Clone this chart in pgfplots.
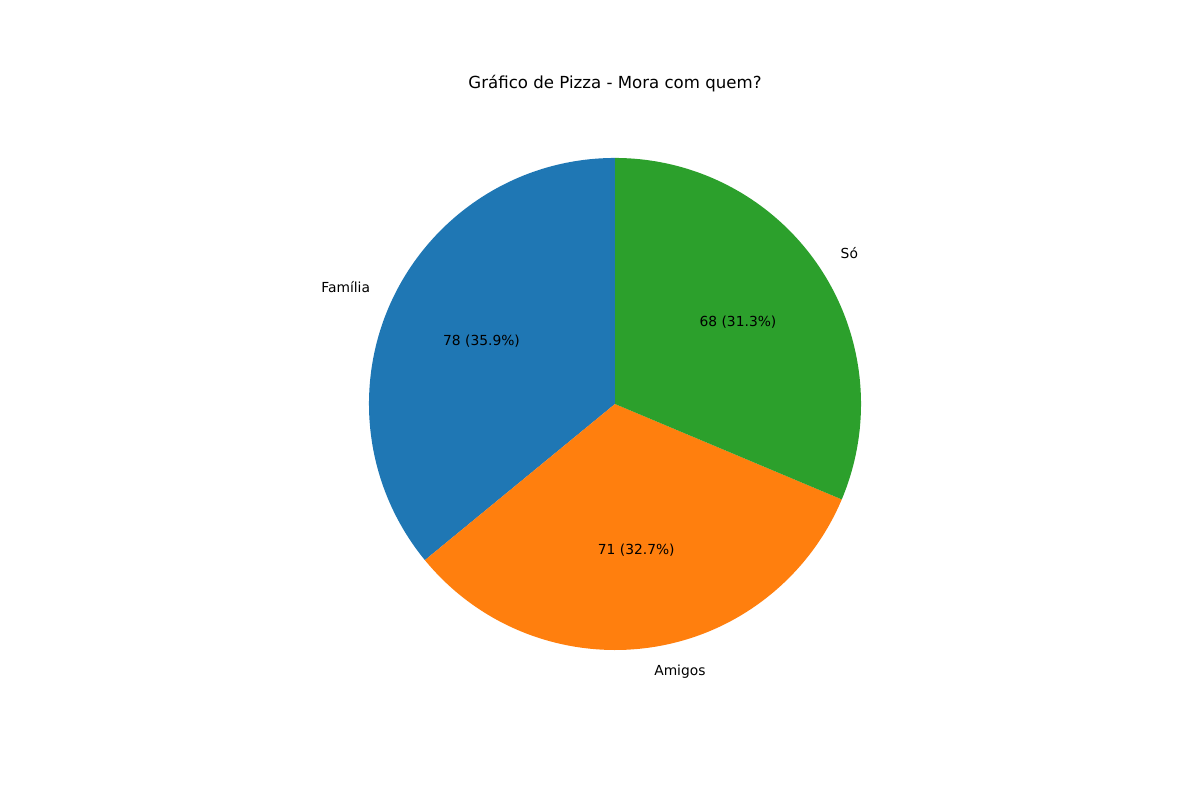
\documentclass[border=0pt]{standalone}
\usepackage{pgfplots}
\pgfplotsset{compat=1.18}
\usepackage{fontspec}
\setmainfont{DejaVu Sans}
\definecolor{tabblue}{HTML}{1F77B4}
\definecolor{taborange}{HTML}{FF7F0E}
\definecolor{tabgreen}{HTML}{2CA02C}

\begin{document}
\begin{tikzpicture}
% data: Familia, Amigos, So
\pgfmathsetmacro{\vA}{78}
\pgfmathsetmacro{\vB}{71}
\pgfmathsetmacro{\vC}{68}
\pgfmathsetmacro{\tot}{\vA+\vB+\vC}
\pgfmathsetmacro{\sA}{90}
\pgfmathsetmacro{\eA}{\sA+360*(\vA/\tot)}
\pgfmathsetmacro{\eB}{\eA+360*(\vB/\tot)}
\pgfmathsetmacro{\eC}{\eB+360*(\vC/\tot)}
\pgfmathsetmacro{\mA}{(\sA+\eA)/2}
\pgfmathsetmacro{\mB}{(\eA+\eB)/2}
\pgfmathsetmacro{\mC}{(\eB+\eC)/2}
\def\R{177.8pt}
\def\Rl{195.6pt}
\def\Rp{106.7pt}
\begin{axis}[
    width=12in, height=8in, scale only axis,
    xmin=0, xmax=1200, ymin=0, ymax=800,
    hide axis, clip=false,
]
  \path (axis cs:0,0) rectangle (axis cs:1200,800);
  \fill[tabblue]   (axis cs:615,396) -- ++(\sA:\R) arc[start angle=\sA, end angle=\eA, radius=\R] -- cycle;
  \fill[taborange] (axis cs:615,396) -- ++(\eA:\R) arc[start angle=\eA, end angle=\eB, radius=\R] -- cycle;
  \fill[tabgreen]  (axis cs:615,396) -- ++(\eB:\R) arc[start angle=\eB, end angle=\eC, radius=\R] -- cycle;

  \node[anchor=east, inner sep=0pt, font=\fontsize{10}{12}\selectfont]
    at ([shift={(\mA:\Rl)}]axis cs:615,397.5) {Família};
  \node[anchor=west, inner sep=0pt, font=\fontsize{10}{12}\selectfont]
    at ([shift={(\mB:\Rl)}]axis cs:615,396) {Amigos};
  \node[anchor=west, inner sep=0pt, font=\fontsize{10}{12}\selectfont]
    at ([shift={(\mC:\Rl)}]axis cs:615,397.5) {Só};

  \node[inner sep=0pt, font=\fontsize{10}{12}\selectfont]
    at ([shift={(\mA:\Rp)}]axis cs:615,396) {78 (35.9\%)};
  \node[inner sep=0pt, font=\fontsize{10}{12}\selectfont]
    at ([shift={(\mB:\Rp)}]axis cs:615,396) {71 (32.7\%)};
  \node[inner sep=0pt, font=\fontsize{10}{12}\selectfont]
    at ([shift={(\mC:\Rp)}]axis cs:615,396) {68 (31.3\%)};

  \node[font=\fontsize{12}{14}\selectfont] at (axis cs:615,716.5) {Gráfico de Pizza - Mora com quem?};
\end{axis}
\end{tikzpicture}
\end{document}
